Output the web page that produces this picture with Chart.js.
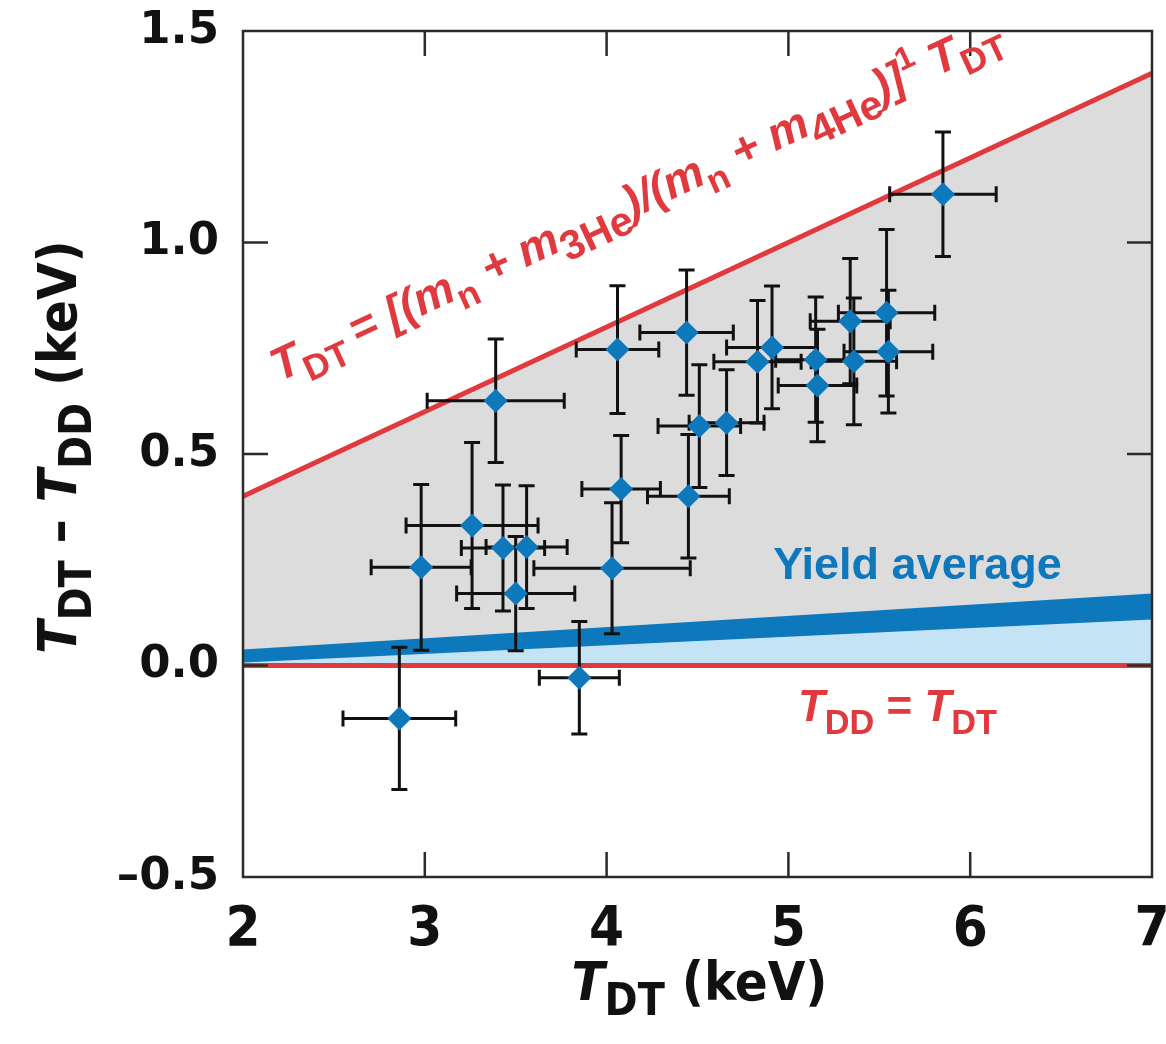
<!DOCTYPE html>
<html>
<head>
<meta charset="utf-8">
<script src="https://cdn.jsdelivr.net/npm/chart.js@4.4.1/dist/chart.umd.min.js"></script>
<style>
  html, body { margin: 0; background: #fff; }
  #wrap { width: 1166px; height: 1044px; }
</style>
</head>
<body>
<div id="wrap"><canvas id="chart"></canvas></div>
<script>
// measured shots: T_DT and T_DT - T_DD (keV), with 1-sigma error bars
const tdt  = [2.86, 2.98, 3.26, 3.39, 3.43, 3.50, 3.56, 3.85, 4.03, 4.06, 4.08, 4.44,
              4.45, 4.51, 4.66, 4.83, 4.91, 5.15, 5.16, 5.34, 5.36, 5.54, 5.55, 5.85];
const diff = [-0.125, 0.232, 0.331, 0.626, 0.278, 0.170, 0.280, -0.029, 0.230, 0.747, 0.417, 0.787,
              0.400, 0.566, 0.574, 0.718, 0.752, 0.723, 0.662, 0.814, 0.719, 0.834, 0.742, 1.114];
const xErr = [0.31, 0.275, 0.363, 0.377, 0.229, 0.325, 0.223, 0.22, 0.43, 0.227, 0.216, 0.257,
              0.225, 0.227, 0.206, 0.24, 0.25, 0.22, 0.216, 0.22, 0.235, 0.265, 0.244, 0.293];
const yErr = [0.168, 0.196, 0.196, 0.146, 0.149, 0.135, 0.145, 0.133, 0.155, 0.151, 0.127, 0.148,
              0.146, 0.145, 0.125, 0.145, 0.145, 0.148, 0.133, 0.148, 0.15, 0.197, 0.145, 0.147];

// reference lines / bands, evaluated at the ends of the x range
const lineX   = [2, 7];
const limitY  = [0.4, 1.4];     // upper bound, 0.2 * T_DT
const equalY  = [0, 0];         // T_DD = T_DT
const yieldLo = [0.007, 0.109];
const yieldHi = [0.038, 0.170];

const xTicks = [2, 3, 4, 5, 6, 7];
const yTicks = [-0.5, 0, 0.5, 1.0, 1.5];

const RED = "#e03a3f", BLUE = "#0e78bd", LIGHT = "#c4e4f5", GRAY = "#dcdcdc";
const NARROW = "'Liberation Sans Narrow', 'DejaVu Sans Condensed', sans-serif";
const SANS = "'Liberation Sans', Arial, sans-serif";

const pts = (ys) => lineX.map((x, i) => ({ x, y: ys[i] }));

// rich text with italic / subscript / superscript runs
function segFont(s, size, fam) {
  const sz = s.sub || s.sup ? size * (s.scale || 0.78) : size;
  return `${s.it ? "italic " : ""}bold ${sz}px ${fam}`;
}
function measureRich(ctx, segs, size, fam) {
  let w = 0;
  for (const s of segs) { ctx.font = segFont(s, size, fam); w += ctx.measureText(s.t).width; }
  return w;
}
function drawRich(ctx, segs, x, y, size, fam, align) {
  const w = measureRich(ctx, segs, size, fam);
  let cx = align === "center" ? x - w / 2 : x;
  ctx.textAlign = "left";
  ctx.textBaseline = "alphabetic";
  for (const s of segs) {
    ctx.font = segFont(s, size, fam);
    const dy = s.sub ? size * 0.28 : s.sup ? -size * 0.42 : 0;
    ctx.fillText(s.t, cx, y + dy);
    cx += ctx.measureText(s.t).width;
  }
}

const eqLabel = [
  { t: "T", it: true }, { t: "DT ", sub: true }, { t: "= [(", it: true },
  { t: "m", it: true }, { t: "n", sub: true }, { t: " + ", it: true },
  { t: "m", it: true }, { t: "3He", sub: true, scale: 0.9 }, { t: ")/(", it: true },
  { t: "m", it: true }, { t: "n", sub: true }, { t: " + ", it: true },
  { t: "m", it: true }, { t: "4He", sub: true, scale: 0.9 }, { t: ")]", it: true },
  { t: "1", sup: true, scale: 0.7 }, { t: " T", it: true }, { t: "DT", sub: true },
];
const eqDD = [{ t: "T", it: true }, { t: "DD", sub: true }, { t: " = " }, { t: "T", it: true }, { t: "DT", sub: true }];
const xTitle = [{ t: "T", it: true }, { t: "DT", sub: true, scale: 0.82 }, { t: " (keV)" }];
const yTitle = [{ t: "T", it: true }, { t: "DT", sub: true, scale: 0.82 }, { t: " \u2013 " },
                { t: "T", it: true }, { t: "DD", sub: true, scale: 0.82 }, { t: " (keV)" }];

// error bars go under the diamonds
const errorBars = {
  id: "errorBars",
  beforeDatasetDraw(chart, args) {
    if (args.index !== 0) return;
    const { ctx, scales: { x, y } } = chart;
    ctx.save();
    ctx.strokeStyle = "#111";
    ctx.lineWidth = 3;
    const cap = 8;
    tdt.forEach((v, i) => {
      const px = x.getPixelForValue(v), py = y.getPixelForValue(diff[i]);
      const x0 = x.getPixelForValue(v - xErr[i]), x1 = x.getPixelForValue(v + xErr[i]);
      const y0 = y.getPixelForValue(diff[i] - yErr[i]), y1 = y.getPixelForValue(diff[i] + yErr[i]);
      ctx.beginPath();
      ctx.moveTo(x0, py); ctx.lineTo(x1, py);
      ctx.moveTo(x0, py - cap); ctx.lineTo(x0, py + cap);
      ctx.moveTo(x1, py - cap); ctx.lineTo(x1, py + cap);
      ctx.moveTo(px, y0); ctx.lineTo(px, y1);
      ctx.moveTo(px - cap, y0); ctx.lineTo(px + cap, y0);
      ctx.moveTo(px - cap, y1); ctx.lineTo(px + cap, y1);
      ctx.stroke();
    });
    ctx.restore();
  },
};

// box frame, inward ticks on all sides, and the text labels
const frame = {
  id: "frame",
  afterDraw(chart) {
    const { ctx, chartArea: a, scales: { x, y } } = chart;
    ctx.save();
    ctx.strokeStyle = "#2b2b2b";
    ctx.lineWidth = 2.5;
    const tl = 25;
    ctx.beginPath();
    xTicks.slice(1, -1).forEach((v) => {
      const px = x.getPixelForValue(v);
      ctx.moveTo(px, a.bottom); ctx.lineTo(px, a.bottom - tl);
      ctx.moveTo(px, a.top); ctx.lineTo(px, a.top + tl);
    });
    yTicks.slice(1, -1).forEach((v) => {
      const py = y.getPixelForValue(v);
      ctx.moveTo(a.left, py); ctx.lineTo(a.left + tl, py);
      ctx.moveTo(a.right, py); ctx.lineTo(a.right - tl, py);
    });
    ctx.stroke();
    ctx.strokeRect(a.left, a.top, a.right - a.left, a.bottom - a.top);

    // equation along the upper red line
    const ang = Math.atan2(y.getPixelForValue(limitY[0]) - y.getPixelForValue(limitY[1]),
                           x.getPixelForValue(lineX[1]) - x.getPixelForValue(lineX[0]));
    ctx.fillStyle = RED;
    ctx.save();
    ctx.translate(x.getPixelForValue(2.2), y.getPixelForValue(0.67));
    ctx.rotate(-ang);
    drawRich(ctx, eqLabel, 0, 0, 46, SANS, "left");
    ctx.restore();

    drawRich(ctx, eqDD, x.getPixelForValue(5.6), y.getPixelForValue(-0.132), 44, SANS, "center");

    ctx.fillStyle = BLUE;
    drawRich(ctx, [{ t: "Yield average" }], x.getPixelForValue(5.71), y.getPixelForValue(0.205), 45, SANS, "center");

    // axis titles
    ctx.fillStyle = "#111";
    drawRich(ctx, xTitle, (a.left + a.right) / 2 + 2, 1000, 54, NARROW, "center");
    ctx.save();
    ctx.translate(76, 447);
    ctx.rotate(-Math.PI / 2);
    drawRich(ctx, yTitle, 0, 0, 54, NARROW, "center");
    ctx.restore();
    ctx.restore();
  },
};

const lineDs = (data, extra) => Object.assign({
  type: "line", data, pointRadius: 0, borderWidth: 0, tension: 0, fill: false,
}, extra);

new Chart(document.getElementById("chart"), {
  type: "scatter",
  data: {
    datasets: [
      {
        label: "shots",
        data: tdt.map((x, i) => ({ x, y: diff[i] })),
        pointStyle: "rectRot",
        pointRadius: 12,
        pointBackgroundColor: BLUE,
        pointBorderWidth: 0,
        order: 0,
      },
      lineDs(pts(limitY), { borderColor: RED, borderWidth: 5, order: 1 }),
      lineDs(pts(equalY), { borderColor: RED, borderWidth: 5, order: 1 }),
      lineDs(pts(yieldHi), { backgroundColor: BLUE, fill: 4, order: 2 }),
      lineDs(pts(yieldLo), { backgroundColor: LIGHT, fill: { value: 0 }, order: 3 }),
      lineDs(pts(limitY), { backgroundColor: GRAY, fill: { value: 0 }, order: 4 }),
    ],
  },
  options: {
    responsive: true,
    maintainAspectRatio: false,
    animation: false,
    devicePixelRatio: 1,
    layout: { padding: { left: 0, right: 14, top: 31, bottom: 0 } },
    plugins: { legend: { display: false }, tooltip: { enabled: false } },
    scales: {
      x: {
        type: "linear", min: 2, max: 7,
        grid: { display: false }, border: { display: false },
        afterBuildTicks: (s) => { s.ticks = xTicks.map((value) => ({ value })); },
        afterFit: (s) => { s.height = 167; s.paddingLeft = 0; s.paddingRight = 0; },
        ticks: { color: "#111", padding: 12, maxRotation: 0,
                 font: { family: NARROW, size: 56, weight: "bold" } },
      },
      y: {
        type: "linear", min: -0.5, max: 1.5,
        grid: { display: false }, border: { display: false },
        afterBuildTicks: (s) => { s.ticks = yTicks.map((value) => ({ value })); },
        afterFit: (s) => { s.width = 243; s.paddingTop = 0; s.paddingBottom = 0; },
        ticks: { color: "#111", padding: 16,
                 font: { family: "'DejaVu Sans', sans-serif", size: 45, weight: "bold" },
                 callback: (v) => (v < 0 ? "\u2013" + Math.abs(v).toFixed(1) : v.toFixed(1)) },
      },
    },
  },
  plugins: [errorBars, frame],
});
</script>
</body>
</html>
